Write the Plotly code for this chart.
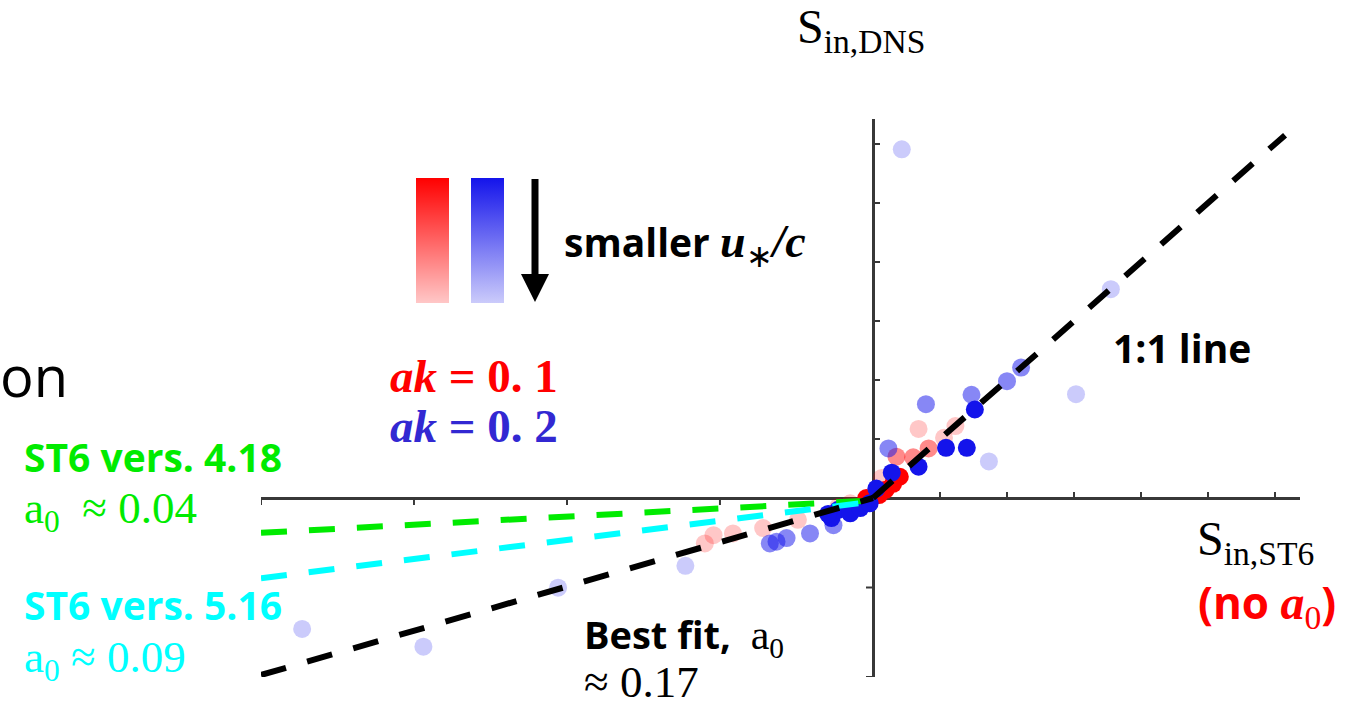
import plotly.graph_objects as go

# ---------------- data ----------------
# ak = 0.1 runs (red); shade encodes relative u*/c
red_x = [0.68, 1.23, 1.06, -2.51, -2.38, -2.09, -1.64, -1.12, -0.52, -0.34, 0.13, 0.15,
         0.83, 0.35, 0.60,
         0.40, 0.30, 0.19, 0.09, -0.10]
red_y = [1.17, 1.22, 1.02, -0.77, -0.63, -0.60, -0.51, -0.37, -0.15, -0.09, 0.34, 0.09,
         0.84, 0.70, 0.69,
         0.36, 0.24, 0.14, 0.05, 0.00]
red_ustar_c = [0.2] * 12 + [0.45] * 3 + [1.0] * 5

# ak = 0.2 runs (blue)
blue_x = [0.43, 3.55, 3.03, 1.73, -8.52, -6.71, -4.70, -2.80,
          0.79, 1.47, 2.00, 2.21, 0.23, -1.54, -1.44, -1.29, -0.94, -0.59,
          1.52, 1.09, 1.40, 0.68, 0.28, 0.05, -0.62, -0.52, -0.34, -0.19, -0.05, -0.67]
blue_y = [5.91, 3.54, 1.76, 0.62, -2.22, -2.52, -1.52, -1.15,
          1.59, 1.75, 1.98, 2.21, 0.84, -0.77, -0.74, -0.68, -0.60, -0.46,
          1.50, 0.85, 0.85, 0.53, 0.43, 0.16, -0.34, -0.20, -0.26, -0.17, -0.09, -0.27]
blue_ustar_c = [0.2] * 8 + [0.5] * 10 + [1.0] * 12

# reference lines
one_to_one_x = [0.0, 6.15]
one_to_one_y = [0.0, 6.15]
best_fit_x = [-9.134, 0.0]
best_fit_y = [-3.0, 0.0]
st6_418_x = [-9.134, 0.0]
st6_418_y = [-0.59, -0.04]
st6_516_x = [-9.134, 0.0]
st6_516_y = [-1.36, -0.06]

# axis ticks (unlabelled)
x_ticks_neg = [-9.134, -6.851, -4.567, -2.284]
x_ticks_pos = [1, 2, 3, 4, 5, 6]
y_ticks_pos = [1, 2, 3, 4, 5, 6]
y_ticks_neg = [-1.517, -3.034]

X_RANGE = [-9.134, 6.373]
Y_RANGE = [-3.034, 6.424]

# ---------------- layout helpers ----------------
W, H = 1358, 707
ML, MR, MT, MB = 261, 58, 119, 30
PW, PH = W - ML - MR, H - MT - MB


def fx(px):
    return (px - ML) / PW


def fy(py):
    return (H - MB - py) / PH


SERIF = "Liberation Serif"
SANS = "Open Sans"
AXIS_COL = "#383838"
GREEN = "rgb(0,235,0)"
CYAN = "rgb(0,255,255)"
RED = "rgb(255,0,0)"
BLUE_TXT = "rgb(50,40,210)"

red_scale = [[0, "rgba(255,0,0,0.22)"], [1, "rgba(255,0,0,1)"]]
blue_scale = [[0, "rgba(20,20,235,0.22)"], [1, "rgba(20,20,235,1)"]]


def cbar(px_left):
    return dict(x=fx(px_left), xanchor="left", xpad=0,
                y=fy(240.5), yanchor="middle", ypad=0,
                len=125, lenmode="pixels", thickness=33, thicknessmode="pixels",
                outlinewidth=0, showticklabels=False, ticks="")


fig = go.Figure()

fig.add_trace(go.Scatter(
    x=red_x, y=red_y, mode="markers", name="ak = 0.1",
    marker=dict(size=18, color=red_ustar_c, colorscale=red_scale, cmin=0.2, cmax=1.0,
                line=dict(width=0), showscale=True, colorbar=cbar(416)),
))
fig.add_trace(go.Scatter(
    x=blue_x, y=blue_y, mode="markers", name="ak = 0.2",
    marker=dict(size=18, color=blue_ustar_c, colorscale=blue_scale, cmin=0.2, cmax=1.0,
                line=dict(width=0), showscale=True, colorbar=cbar(471)),
))

for lx, ly, col in [(st6_418_x, st6_418_y, GREEN),
                    (st6_516_x, st6_516_y, CYAN),
                    (best_fit_x, best_fit_y, "black"),
                    (one_to_one_x, one_to_one_y, "black")]:
    fig.add_trace(go.Scatter(x=lx, y=ly, mode="lines",
                             line=dict(color=col, width=6, dash="26px,22px")))

# tick marks at the crossing axes
shapes = []
for tv in x_ticks_neg:
    shapes.append(dict(type="line", xref="x", yref="y", x0=tv, x1=tv,
                       ysizemode="pixel", yanchor=0, y0=0, y1=-7,
                       line=dict(color=AXIS_COL, width=2)))
for tv in x_ticks_pos:
    shapes.append(dict(type="line", xref="x", yref="y", x0=tv, x1=tv,
                       ysizemode="pixel", yanchor=0, y0=0, y1=6,
                       line=dict(color=AXIS_COL, width=2)))
for tv in y_ticks_pos:
    shapes.append(dict(type="line", xref="x", yref="y", y0=tv, y1=tv,
                       xsizemode="pixel", xanchor=0, x0=0, x1=7,
                       line=dict(color=AXIS_COL, width=2)))
for tv in y_ticks_neg:
    shapes.append(dict(type="line", xref="x", yref="y", y0=tv, y1=tv,
                       xsizemode="pixel", xanchor=0, x0=0, x1=-7,
                       line=dict(color=AXIS_COL, width=2)))

# downward arrow next to the shade bars
arrow = [(531.5, 179), (538.5, 179), (538.5, 274), (549, 274), (535, 302),
         (521, 274), (531.5, 274)]
path = "M " + " L ".join(f"{fx(a):.5f},{fy(b):.5f}" for a, b in arrow) + " Z"
shapes.append(dict(type="path", xref="paper", yref="paper", path=path,
                   fillcolor="black", line=dict(width=0)))


def label(px, top, text, size, color="black", family=SANS):
    return dict(x=fx(px), y=fy(top), xref="paper", yref="paper",
                xanchor="left", yanchor="top", showarrow=False,
                borderpad=0, borderwidth=0, align="left",
                text=text, font=dict(family=family, size=size, color=color))


def serif_span(inner, size=None):
    style = f"font-family:{SERIF}" + (f";font-size:{size}px" if size else "")
    return f'<span style="{style}">{inner}</span>'


annotations = [
    label(797, 0, "S<sub>in,DNS</sub>", 48, family=SERIF),
    label(1197, 512, "S<sub>in,ST6</sub>", 48, family=SERIF),
    label(1198, 572, "<b>(no </b>" + serif_span("<b><i>a</i></b><sub>0</sub>", 48) + "<b>)</b>",
          44, color=RED),
    label(1113, 321, "<b>1:1 line</b>", 39),
    label(564, 215, "<b>smaller</b> " + serif_span("<b><i>u</i></b><sub>∗</sub><b><i>/c</i></b>", 46),
          39),
    label(390, 350, "<b><i>ak</i> = 0. 1</b>", 47, color=RED, family=SERIF),
    label(390, 400, "<b><i>ak</i> = 0. 2</b>", 47, color=BLUE_TXT, family=SERIF),
    label(24, 430, "<b>ST6 vers. 4.18</b>", 39, color=GREEN),
    label(24, 483, "a<sub>0</sub>  ≈ 0.04", 45, color=GREEN, family=SERIF),
    label(24, 578, "<b>ST6 vers. 5.16</b>", 39, color=CYAN),
    label(24, 632, "a<sub>0</sub> ≈ 0.09", 45, color=CYAN, family=SERIF),
    label(584, 608, "<b>Best fit,</b>  " + serif_span("a<sub>0</sub>", 42), 38),
    label(584, 657, "≈ 0.17", 45, family=SERIF),
    label(0, 337, "on", 56),
]

axis_common = dict(showgrid=False, showticklabels=False, ticks="", showline=False,
                   zeroline=True, zerolinecolor=AXIS_COL, zerolinewidth=2.5)

fig.update_layout(
    width=W, height=H,
    margin=dict(l=ML, r=MR, t=MT, b=MB, autoexpand=False),
    paper_bgcolor="white", plot_bgcolor="white",
    showlegend=False,
    xaxis=dict(range=X_RANGE, **axis_common),
    yaxis=dict(range=Y_RANGE, **axis_common),
    shapes=shapes,
    annotations=annotations,
)

fig.write_html("out.html")
